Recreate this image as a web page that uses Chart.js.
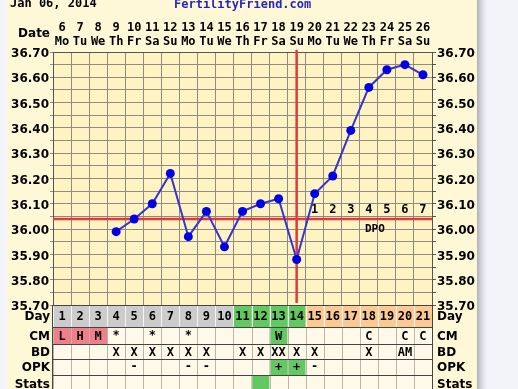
<!DOCTYPE html>
<html><head><meta charset="utf-8">
<script src="https://cdn.jsdelivr.net/npm/chart.js@4.4.1/dist/chart.umd.min.js"></script>
<style>html,body{margin:0;padding:0;background:#f3f3fa;overflow:hidden}#wrap{position:relative;width:518px;height:389px}</style>
</head><body><div id="wrap"><canvas id="c" width="518" height="389"></canvas></div>
<script>
// ---- data ----
const chartDate = 'Jan 06, 2014';
const siteName = 'FertilityFriend.com';
const cycleDays = [1,2,3,4,5,6,7,8,9,10,11,12,13,14,15,16,17,18,19,20,21];
const dates = ['6','7','8','9','10','11','12','13','14','15','16','17','18','19','20','21','22','23','24','25','26'];
const weekdays = ['Mo','Tu','We','Th','Fr','Sa','Su','Mo','Tu','We','Th','Fr','Sa','Su','Mo','Tu','We','Th','Fr','Sa','Su'];
const temps = [null,null,null,35.99,36.04,36.10,36.22,35.97,36.07,35.93,36.07,36.10,36.12,35.88,36.14,36.21,36.39,36.56,36.63,36.65,36.61];
const tempMin = 35.70, tempMax = 36.70, tempGridStep = 0.05;
const coverline = 36.04;
const ovulationDay = 14;
const dpoLabels = ['','','','','','','','','','','','','','','1','2','3','4','5','6','7'];
const dpoTitle = 'DPO';
const dayPhase = ['menses','menses','menses','low','low','low','low','low','low','low','fertile','fertile','fertile','fertile','luteal','luteal','luteal','luteal','luteal','luteal','luteal'];
const cmValues = ['L','H','M','*','','*','','*','','','','','W','','','','','C','','C','C'];
const bdValues = ['','','','X','X','X','X','X','X','','X','X','XX','X','X','','','X','','AM',''];
const opkValues = ['','','','','-','','','-','-','','','','+','+','-','','','','','',''];
const statsValues = ['','','','','','','','','','','','fertile','','','','','','','','',''];
const rowLabels = ['Day','CM','BD','OPK','Stats'];

// ---- styles ----
const FONT = '"DejaVu Sans", sans-serif';
const MONO = '"DejaVu Sans Mono", monospace';
const GRID = '#8e8b80';
const PLOT_BG = '#fff3c4';
const PANEL_BG = '#fff8d6';
const CELL_BG = '#fff9ea';
const phaseColor = {menses:'#cccccc', low:'#cccccc', fertile:'#62c862', luteal:'#fbc991'};

const bgPlugin = {
  id:'bg',
  beforeDraw(chart){
    const c = chart.ctx, a = chart.chartArea;
    c.save();
    c.fillStyle = '#f3f3fa'; c.fillRect(0,0,518,389);
    const g = c.createLinearGradient(477,0,488,0);
    g.addColorStop(0,'rgba(120,120,130,0.55)'); g.addColorStop(1,'rgba(200,200,210,0)');
    c.fillStyle = g; c.fillRect(477,0,11,389);
    c.fillStyle = PANEL_BG; c.fillRect(7,0,470,389);
    c.fillStyle = PLOT_BG; c.fillRect(a.left,a.top,a.right-a.left,a.bottom-a.top);
    c.restore();
  }
};

const linesPlugin = {
  id:'lines',
  beforeDatasetsDraw(chart){
    const c = chart.ctx, a = chart.chartArea, x = chart.scales.x, y = chart.scales.y;
    c.save();
    c.strokeStyle = '#e03a3a'; c.lineWidth = 2.5;
    const yc = y.getPixelForValue(coverline);
    c.beginPath(); c.moveTo(a.left, yc); c.lineTo(a.right, yc); c.stroke();
    const xo = x.getPixelForValue(ovulationDay-1);
    c.beginPath(); c.moveTo(xo, a.top-2); c.lineTo(xo, a.bottom-2); c.stroke();
    c.fillStyle = '#000';
    c.font = 'bold 12px ' + MONO; c.textAlign = 'center'; c.textBaseline = 'middle';
    dpoLabels.forEach((t,i)=>{ if(t) c.fillText(t, x.getPixelForValue(i), yc-9); });
    const midX = (x.getPixelForValue(17)+x.getPixelForValue(18))/2 - 3;
    c.font = 'bold 11px ' + MONO;
    c.fillText(dpoTitle, midX, yc+10);
    c.restore();
  }
};

const tablePlugin = {
  id:'table',
  afterDraw(chart){
    const c = chart.ctx, a = chart.chartArea, x = chart.scales.x;
    const half = (x.getPixelForValue(1)-x.getPixelForValue(0))/2;
    const edges = [305, 327, 344, 359, 375, 392];
    const rows = [cycleDays.map(String), cmValues, bdValues, opkValues, statsValues.map(()=>'')];
    c.save();
    // header texts
    c.fillStyle = '#000'; c.textBaseline = 'middle';
    c.font = 'bold 12px ' + MONO; c.textAlign = 'left';
    c.fillText(chartDate, 10, 4);
    c.fillStyle = '#2727c0'; c.fillText(siteName, 174, 5);
    c.fillStyle = '#000'; c.font = 'bold 12px ' + FONT; c.textAlign = 'right';
    c.fillText('Date', 50, 34);
    // cells
    for (let r=0;r<rows.length;r++){
      const y0 = edges[r], y1 = edges[r+1];
      for (let i=0;i<cycleDays.length;i++){
        const cx = x.getPixelForValue(i);
        let fill = CELL_BG;
        if (r===0) fill = phaseColor[dayPhase[i]];
        if (r===1 && ['L','H','M'].includes(cmValues[i])) fill = '#f07f8a';
        if (r===1 && cmValues[i]==='W') fill = phaseColor.fertile;
        if (r===3 && opkValues[i]==='+') fill = phaseColor.fertile;
        if (r===4 && statsValues[i]==='fertile') fill = phaseColor.fertile;
        c.fillStyle = fill; c.fillRect(cx-half, y0, half*2, y1-y0);
        c.strokeStyle = r===0 ? '#f4f4f4' : '#b9b6ac'; c.lineWidth = 1;
        c.beginPath(); c.moveTo(Math.round(cx-half)+0.5, y0); c.lineTo(Math.round(cx-half)+0.5, y1); c.stroke();
        const t = rows[r][i];
        if (t){
          c.fillStyle = '#000'; c.textAlign = 'center';
          c.font = 'bold 12px ' + MONO;
          c.fillText(t, cx, (y0+y1)/2 + (t==='-'||t==='*' ? 0 : 1));
        }
      }
      c.strokeStyle = '#444'; c.lineWidth = 1;
      c.beginPath(); c.moveTo(a.left, y0+0.5); c.lineTo(a.right, y0+0.5); c.stroke();
      c.beginPath(); c.moveTo(Math.round(a.right)+0.5, y0); c.lineTo(Math.round(a.right)+0.5, y1); c.stroke();
      c.beginPath(); c.moveTo(Math.round(a.left)-0.5, y0); c.lineTo(Math.round(a.left)-0.5, y1); c.stroke();
      c.fillStyle = '#000'; c.font = 'bold 12px ' + FONT;
      c.textAlign = 'right'; c.fillText(rowLabels[r], 50, (y0+y1)/2 + 1);
      c.textAlign = 'left'; c.fillText(rowLabels[r], 437, (y0+y1)/2 + 1);
    }
    c.restore();
  }
};

function yTickLabel(v){
  const cents = Math.round(v*100);
  return cents % 10 === 0 ? (cents/100).toFixed(2) : '';
}
const yTickFont = {family: FONT, size: 12, weight: 'bold'};

new Chart(document.getElementById('c'), {
  type: 'line',
  data: {
    labels: cycleDays,
    datasets: [{
      data: temps, borderColor: '#3535cc', borderWidth: 2,
      pointRadius: 4.5, pointBackgroundColor: '#0000e6', pointBorderColor: '#0000e6',
      pointBorderWidth: 0, spanGaps: false, tension: 0
    }]
  },
  options: {
    responsive: false, animation: false, devicePixelRatio: 1,
    layout: {padding: {left: 0, right: 0, top: 0, bottom: 84}},
    plugins: {legend: {display: false}, tooltip: {enabled: false}},
    scales: {
      x: {
        type: 'category', position: 'top', offset: true,
        grid: {offset: true, color: GRID, lineWidth: 1, drawTicks: false},
        border: {color: '#555'},
        ticks: {color: '#000', font: {family: MONO, size: 12, weight: 'bold', lineHeight: 1.2},
                padding: 3, maxRotation: 0, autoSkip: false,
                callback: (v, i) => [dates[i], weekdays[i]]},
        afterFit: (s) => { s.height = 52; }
      },
      y: {
        position: 'left', min: tempMin, max: tempMax,
        grid: {color: GRID, lineWidth: 1, tickLength: 3},
        border: {color: '#555'},
        ticks: {stepSize: tempGridStep, maxTicksLimit: 40, autoSkip: false, color: '#000', font: yTickFont,
                padding: 1, labelOffset: 2, callback: yTickLabel},
        afterFit: (s) => { s.width = 53; }
      },
      y2: {
        position: 'right', min: tempMin, max: tempMax,
        grid: {drawOnChartArea: false, color: '#555', tickLength: 4},
        border: {color: '#555'},
        ticks: {stepSize: tempGridStep, maxTicksLimit: 40, autoSkip: false, color: '#000', font: yTickFont,
                padding: 1, labelOffset: 2, callback: yTickLabel},
        afterFit: (s) => { s.width = 86; }
      }
    }
  },
  plugins: [bgPlugin, linesPlugin, tablePlugin]
});
</script></body></html>
